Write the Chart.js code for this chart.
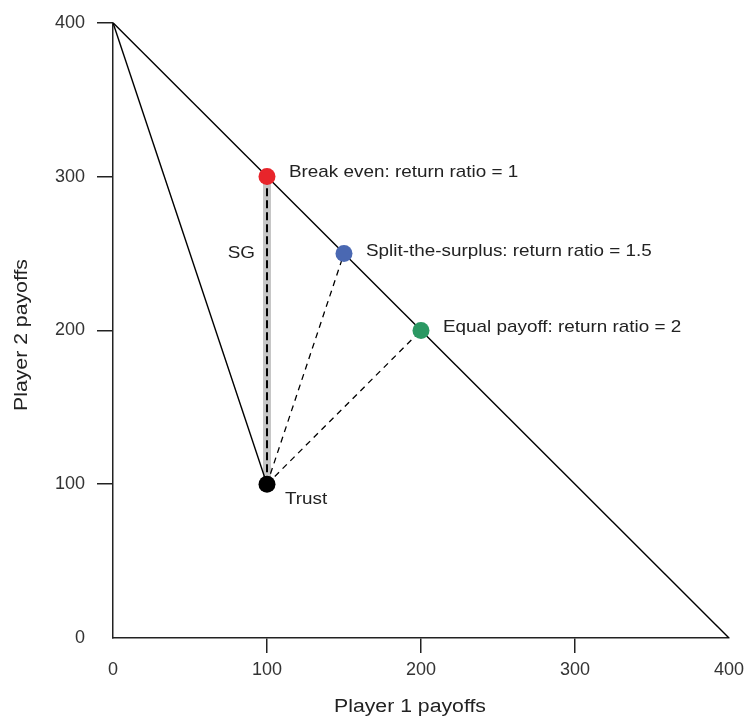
<!DOCTYPE html>
<html>
<head>
<meta charset="utf-8">
<script src="https://cdn.jsdelivr.net/npm/chart.js@4"></script>
<style>
  html, body { margin: 0; padding: 0; background: #fff; }
  #wrap { width: 750px; height: 717px; }
</style>
</head>
<body>
<div id="wrap"><canvas id="chart" width="750" height="717"></canvas></div>
<script>
// payoff frontier and the trust game lines
const frontierX = [0, 400];
const frontierY = [400, 0];
const trustLineX = [0, 100];
const trustLineY = [400, 100];
const sgX = [100, 100];
const sgY = [100, 300];
const splitLineX = [100, 150];
const splitLineY = [100, 250];
const equalLineX = [100, 200];
const equalLineY = [100, 200];

// outcome points
const pointNames = ['Break even', 'Split-the-surplus', 'Equal payoff', 'Trust'];
const pointX = [100, 150, 200, 100];
const pointY = [300, 250, 200, 100];
const pointColors = ['#e8252b', '#4a68b2', '#2b9863', '#000000'];

// text labels
const labelText = ['Break even: return ratio = 1', 'Split-the-surplus: return ratio = 1.5', 'Equal payoff: return ratio = 2', 'SG', 'Trust'];
const labelX = [100, 150, 200, 100, 100];
const labelY = [300, 250, 200, 250, 100];

const axisTicks = [0, 100, 200, 300, 400];
const xTitle = 'Player 1 payoffs';
const yTitle = 'Player 2 payoffs';

const FONT = '"Liberation Sans", Arial, Helvetica, sans-serif';

function pts(xs, ys) { return xs.map((x, i) => ({ x: x, y: ys[i] })); }

function lineSet(xs, ys, color, width, dash, order) {
  return {
    data: pts(xs, ys),
    showLine: true,
    borderColor: color,
    borderWidth: width,
    borderDash: dash || [],
    pointRadius: 0,
    fill: false,
    order: order
  };
}

// pixel offsets and alignment for the text labels (alphabetic baseline)
const labelOffsets = [
  { dx: 22, dy: 0, align: 'left' },
  { dx: 22, dy: 2, align: 'left' },
  { dx: 22, dy: 2, align: 'left' },
  { dx: -12, dy: 4, align: 'right' },
  { dx: 18, dy: 20, align: 'left' }
];

// the reference type is a bit wider than Liberation Sans, so stretch it slightly
function wideText(ctx, text, x, y, stretch) {
  ctx.save();
  ctx.translate(x, y);
  ctx.scale(stretch, 1);
  ctx.fillText(text, 0, 0);
  ctx.restore();
}

const textPlugin = {
  id: 'textLabels',
  afterDraw(chart) {
    const ctx = chart.ctx;
    const xs = chart.scales.x, ys = chart.scales.y;
    ctx.save();
    ctx.font = '17px ' + FONT;
    ctx.fillStyle = '#222';
    ctx.textBaseline = 'alphabetic';
    labelText.forEach((t, i) => {
      const o = labelOffsets[i];
      ctx.textAlign = o.align;
      wideText(ctx, t, xs.getPixelForValue(labelX[i]) + o.dx, ys.getPixelForValue(labelY[i]) + o.dy, 1.11);
    });
    // axis titles
    ctx.font = '18px ' + FONT;
    ctx.textAlign = 'center';
    wideText(ctx, xTitle, 410, 712, 1.18);
    ctx.translate(27, 335);
    ctx.rotate(-Math.PI / 2);
    wideText(ctx, yTitle, 0, 0, 1.18);
    ctx.restore();
  }
};

new Chart(document.getElementById('chart'), {
  type: 'scatter',
  data: {
    datasets: [
      {
        label: 'outcomes',
        data: pts(pointX, pointY),
        pointRadius: 8.5,
        pointBackgroundColor: pointColors,
        pointBorderWidth: 0,
        showLine: false,
        order: 0
      },
      lineSet(sgX, sgY, '#000', 2, [8, 4], 1),
      lineSet(sgX, sgY, '#c6c6c6', 8, [], 2),
      lineSet(frontierX, frontierY, '#000', 1.4, [], 1),
      lineSet(trustLineX, trustLineY, '#000', 1.4, [], 1),
      lineSet(splitLineX, splitLineY, '#000', 1.3, [6, 5], 1),
      lineSet(equalLineX, equalLineY, '#000', 1.3, [6, 5], 1)
    ]
  },
  options: {
    responsive: false,
    animation: false,
    events: [],
    layout: { padding: { left: 0, right: 20, top: 19, bottom: 0 } },
    plugins: { legend: { display: false }, tooltip: { enabled: false } },
    scales: {
      x: {
        type: 'linear', min: 0, max: 400,
        afterBuildTicks: s => { s.ticks = axisTicks.map(v => ({ value: v })); },
        afterFit: s => { s.height = 79; },
        border: { display: true, color: '#222', width: 1.5 },
        grid: {
          drawOnChartArea: false, drawTicks: true, tickLength: 15, lineWidth: 1.5,
          color: c => (c.tick && (c.tick.value === 0 || c.tick.value === 400)) ? 'rgba(0,0,0,0)' : '#222'
        },
        ticks: { color: '#333', padding: 6, font: { family: FONT, size: 18 } },
        title: { display: false }
      },
      y: {
        type: 'linear', min: 0, max: 400,
        afterBuildTicks: s => { s.ticks = axisTicks.map(v => ({ value: v })); },
        afterFit: s => { s.width = 113; },
        border: { display: true, color: '#222', width: 1.5 },
        grid: {
          drawOnChartArea: false, drawTicks: true, tickLength: 16, lineWidth: 1.5,
          color: c => (c.tick && c.tick.value === 0) ? 'rgba(0,0,0,0)' : '#222'
        },
        ticks: { color: '#333', padding: 12, font: { family: FONT, size: 18 } },
        title: { display: false }
      }
    }
  },
  plugins: [textPlugin]
});
</script>
</body>
</html>
